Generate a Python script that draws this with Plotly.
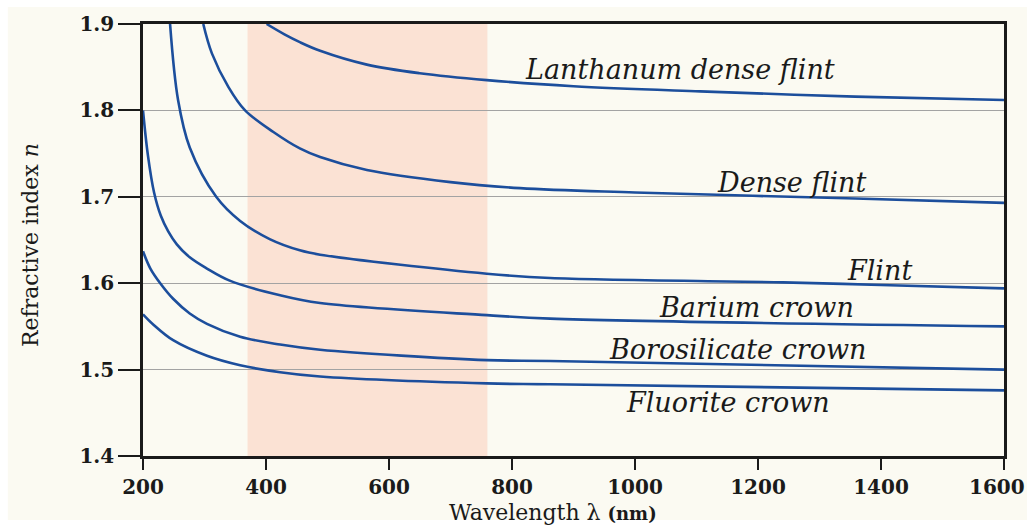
import plotly.graph_objects as go

# ---- data ----
glass_names = ["Lanthanum dense flint", "Dense flint", "Flint",
               "Barium crown", "Borosilicate crown", "Fluorite crown"]

wl_lanthanum = [401, 430, 455, 488, 564, 650, 759, 900, 1106, 1358, 1600]
n_lanthanum = [1.900, 1.888, 1.879, 1.869, 1.853, 1.843, 1.835, 1.828, 1.822, 1.816, 1.812]

wl_dense_flint = [298, 312, 339, 366, 412, 455, 488, 564, 700, 813, 1000, 1358, 1600]
n_dense_flint = [1.900, 1.866, 1.827, 1.800, 1.775, 1.756, 1.746, 1.731, 1.717, 1.710, 1.705, 1.698, 1.693]

wl_flint = [244, 257, 276, 319, 358, 406, 455, 488, 759, 862, 1241, 1400, 1600]
n_flint = [1.900, 1.812, 1.757, 1.700, 1.672, 1.651, 1.638, 1.633, 1.611, 1.606, 1.601, 1.598, 1.594]

wl_barium = [200, 208, 218, 229, 241, 255, 276, 304, 341, 423, 488, 759, 862, 1600]
n_barium = [1.800, 1.748, 1.705, 1.678, 1.660, 1.645, 1.630, 1.617, 1.603, 1.586, 1.577, 1.563, 1.559, 1.550]

wl_borosilicate = [200, 212, 228, 249, 276, 304, 358, 423, 488, 759, 862, 1600]
n_borosilicate = [1.637, 1.617, 1.600, 1.582, 1.565, 1.553, 1.538, 1.529, 1.523, 1.511, 1.510, 1.500]

wl_fluorite = [200, 217, 249, 304, 358, 423, 488, 759, 862, 1600]
n_fluorite = [1.564, 1.552, 1.534, 1.516, 1.505, 1.497, 1.492, 1.484, 1.483, 1.476]

# curve label anchors (wavelength, index)
label_wl = [1073, 1254, 1397, 1197, 1166, 1151]
label_n = [1.847, 1.716, 1.615, 1.572, 1.523, 1.4625]

visible_band = [370, 760]
x_ticks = [200, 400, 600, 800, 1000, 1200, 1400, 1600]
y_ticks = [1.4, 1.5, 1.6, 1.7, 1.8, 1.9]

# ---- figure ----
BLUE = "#1C4E9C"
INK = "#1a1a1a"
CREAM = "#FBFAF2"
PEACH = "#FBE2D4"
TICKFONT = dict(family="DejaVu Serif", size=20, color=INK, weight="bold")

series = [
    (wl_lanthanum, n_lanthanum),
    (wl_dense_flint, n_dense_flint),
    (wl_flint, n_flint),
    (wl_barium, n_barium),
    (wl_borosilicate, n_borosilicate),
    (wl_fluorite, n_fluorite),
]

fig = go.Figure()
for name, (wl, n) in zip(glass_names, series):
    fig.add_trace(go.Scatter(
        x=wl, y=n, mode="lines", name=name, showlegend=False,
        line=dict(color=BLUE, width=2.6, shape="spline", smoothing=1.0),
        hoverinfo="skip",
    ))

shapes = [
    # cream page (white strip at very left/top/bottom as in reference)
    dict(type="rect", xref="paper", yref="paper",
         x0=-0.157, x1=1.03, y0=-0.148, y1=1.0394,
         fillcolor=CREAM, line=dict(width=0), layer="below"),
    # visible band
    dict(type="rect", xref="x", yref="paper",
         x0=visible_band[0], x1=visible_band[1], y0=0, y1=1,
         fillcolor=PEACH, line=dict(width=0), layer="below"),
]

annotations = []
for name, lx, ly in zip(glass_names, label_wl, label_n):
    annotations.append(dict(
        x=lx, y=ly, xref="x", yref="y", text=name, showarrow=False,
        xanchor="center", yanchor="middle",
        font=dict(family="DejaVu Serif", size=27, color=INK, style="italic"),
    ))

# last x tick label kept inside the page edge
x_ticktext = [str(v) for v in x_ticks]
last_label = x_ticktext[-1]
x_ticktext[-1] = ""
annotations.append(dict(
    x=(1026 - 143) / 861, y=(456 - 487) / 432, xref="paper", yref="paper",
    text=last_label, showarrow=False, xanchor="right", yanchor="middle",
    borderpad=0, font=TICKFONT,
))

annotations.append(dict(
    x=(553 - 143) / 861, y=(456 - 499) / 432, xref="paper", yref="paper",
    text="Wavelength λ <b><span style='font-size:18px'>(nm)</span></b>",
    showarrow=False, xanchor="center", yanchor="top", borderpad=0,
    font=dict(family="DejaVu Serif", size=22, color=INK),
))
annotations.append(dict(
    x=(30 - 143) / 861, y=(456 - 245) / 432, xref="paper", yref="paper",
    text="Refractive index <i>n</i>", textangle=-90,
    showarrow=False, xanchor="center", yanchor="middle",
    font=dict(family="DejaVu Serif", size=22, color=INK),
))

fig.update_layout(
    width=1027, height=527,
    margin=dict(l=143, r=23, t=24, b=71, autoexpand=False),
    paper_bgcolor="white",
    plot_bgcolor=CREAM,
    shapes=shapes,
    annotations=annotations,
    showlegend=False,
    xaxis=dict(
        range=[200, 1600], tickvals=x_ticks, ticktext=x_ticktext,
        showgrid=False, zeroline=False, automargin=False,
        showline=True, linecolor=INK, linewidth=2.5, mirror=True,
        ticks="outside", ticklen=11, tickwidth=2, tickcolor=INK,
        tickfont=TICKFONT,
    ),
    yaxis=dict(
        range=[1.4, 1.9], tickvals=y_ticks, ticktext=[f"{v:.1f}" for v in y_ticks],
        showgrid=True, gridcolor="#a3a3a3", gridwidth=1, zeroline=False, automargin=False,
        showline=True, linecolor=INK, linewidth=2.5, mirror=True,
        ticks="outside", ticklen=22, tickwidth=2, tickcolor=INK,
        tickfont=TICKFONT,
    ),
)

fig.write_html("out.html")
